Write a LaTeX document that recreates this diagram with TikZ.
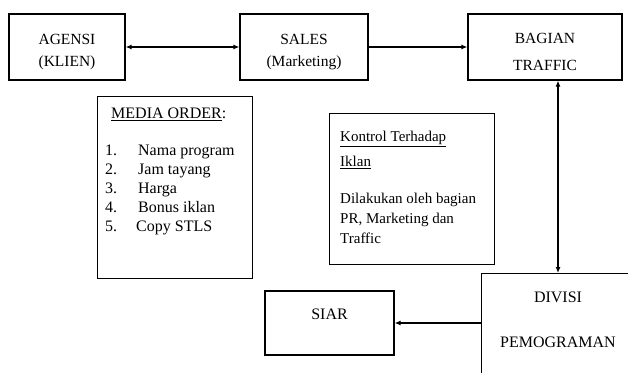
\documentclass[tikz,border=0pt]{standalone}
\usepackage{fontspec}
\setmainfont{Liberation Serif}
\usetikzlibrary{arrows.meta}

\begin{document}
\begin{tikzpicture}[x=1pt, y=-1pt, >={Latex[length=6pt,width=5pt]},
    box/.style={draw, line width=1.2pt, inner sep=0pt},
    txt/.style={font=\fontsize{15.5}{22}\selectfont, align=center}]
    \useasboundingbox (0,0) rectangle (628,372);
    % top row
    \node[box, txt, minimum width=116, minimum height=66] (agensi) at (67,47) {\rule{0pt}{21pt}AGENSI\\(KLIEN)};
    \node[box, txt, minimum width=128, minimum height=66] (sales) at (304,47) {\rule{0pt}{21pt}SALES\\(Marketing)};
    \node[box, txt, minimum width=154, minimum height=66, font=\fontsize{15.5}{27}\selectfont] (traffic) at (545,47) {\rule{0pt}{21pt}BAGIAN\\TRAFFIC};
    \draw[<->, line width=1.2pt] (agensi.east) -- (sales.west);
    \draw[->, line width=1.2pt] (sales.east) -- (traffic.west);
    % media order
    \node[box, anchor=north west, minimum width=155, minimum height=182] (media) at (97,96) {};
    \node[anchor=north west, inner sep=0pt, align=left, font=\fontsize{16}{19}\selectfont] (medialist) at (105,108) {%
        \hspace*{6pt}\underline{MEDIA ORDER}:\\[18pt]
        \makebox[33pt][l]{1.}Nama program\\
        \makebox[33pt][l]{2.}Jam tayang\\
        \makebox[33pt][l]{3.}Harga\\
        \makebox[33pt][l]{4.}Bonus iklan\\
        \makebox[31pt][l]{5.}Copy STLS};
    % kontrol
    \node[box, anchor=north west, minimum width=165, minimum height=151] (kontrol) at (329,113) {};
    \node[anchor=north west, inner sep=0pt, align=left, font=\fontsize{15}{20}\selectfont] (kontroltext) at (340,131) {%
        \underline{Kontrol Terhadap}\\[5pt]
        \underline{Iklan}\\[17pt]
        Dilakukan oleh bagian\\
        PR, Marketing dan\\
        Traffic};
    % bottom row
    \node[box, anchor=north west, minimum width=160, minimum height=110] (divisi) at (481,273) {};
    \node[txt, font=\fontsize{16}{45}\selectfont] (divisitext) at (558,320) {DIVISI\\PEMOGRAMAN};
    \node[box, txt, font=\fontsize{16}{20}\selectfont, minimum width=129, minimum height=64, text depth=17pt] (siar) at (329.5,323) {SIAR};
    \draw[<->, line width=1.6pt] (divisitext |- traffic.south) -- (divisitext |- divisi.north);
    \draw[->, line width=2.6pt] (siar.east -| divisi.west) -- (siar.east);
\end{tikzpicture}
\end{document}
